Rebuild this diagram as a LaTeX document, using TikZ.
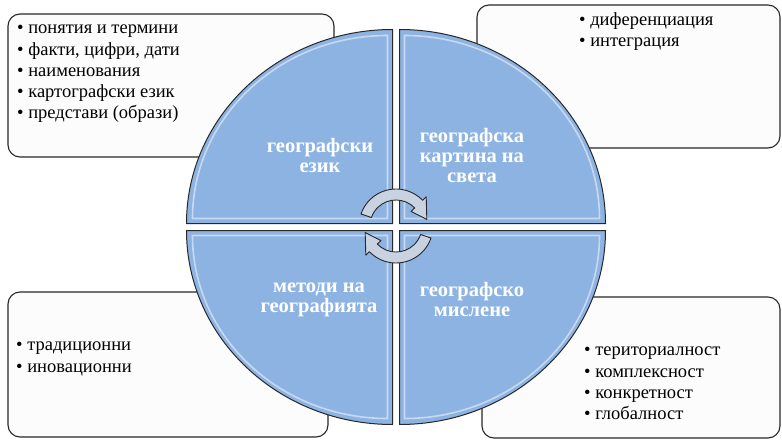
\documentclass[tikz,border=0pt]{standalone}
\usepackage{fontspec}
\setmainfont{Liberation Serif}
\usetikzlibrary{calc}
\definecolor{quadblue}{RGB}{141,179,226}
\definecolor{arrowfill}{RGB}{200,210,224}
\definecolor{edgegray}{RGB}{40,40,40}
\definecolor{boxfill}{RGB}{252,252,252}
\begin{document}
\begin{tikzpicture}[x=1pt,y=1pt,
  infobox/.style={draw=edgegray, line width=1.1pt, rounded corners=12pt, fill=boxfill, inner sep=0pt},
  boxtext/.style={anchor=west, align=left, inner sep=0pt, text=black, font=\fontsize{18.5}{21.2}\selectfont},
  qlabel/.style={align=center, inner sep=0pt, text=white, font=\fontsize{20.5}{20}\selectfont\bfseries},
  quad/.style={fill=quadblue, draw=edgegray, line width=1pt},
  gloss/.style={draw=white, draw opacity=0.5, line width=1.6pt},
  cycarrow/.style={fill=arrowfill, draw=edgegray, line width=0.9pt, line join=round}]
\useasboundingbox (0,0) rectangle (782,440);
\fill[white] (0,0) rectangle (782,440);
% info boxes
\node[infobox, minimum width=326pt, minimum height=143pt] (boxTL) at (171,354.5) {};
\node[infobox, minimum width=303pt, minimum height=143pt] (boxTR) at (628.5,363.5) {};
\node[infobox, minimum width=320pt, minimum height=145pt] (boxBL) at (168,75.5) {};
\node[infobox, minimum width=298pt, minimum height=141pt] (boxBR) at (631,72.5) {};
% quadrants
\coordinate (C) at (396,213);
\def\g{3.5}
\def\rx{206}
\def\ry{194}
\foreach \sx/\sy in {1/1,-1/1,1/-1,-1/-1}{
  \begin{scope}[shift={(C)}, xscale=\sx, yscale=\sy]
    \path[quad] (\g,\g) -- (\g,\g+\ry) arc[start angle=90, end angle=0, x radius=\rx, y radius=\ry] -- cycle;
    \path[gloss] (\g+5,\g+5) -- (\g+5,\g+\ry-6) arc[start angle=90, end angle=0, x radius=\rx-11, y radius=\ry-11] -- cycle;
  \end{scope}
}
% cyclic arrows
\foreach \rot in {0,180}{
  \begin{scope}[rotate around={\rot:(396,214)}]
    \coordinate (A) at (396,214);
    \path[cycarrow] ($(A)+(161:37)$) arc[start angle=161, end angle=44, radius=37]
      -- ($(A)+(44:42)$) -- ($(A)+(12:31.5)$) -- ($(A)+(44:21)$) -- ($(A)+(44:26)$)
      arc[start angle=44, end angle=161, radius=26] -- cycle;
  \end{scope}
}
% quadrant labels
\node[qlabel] (qTL) at (320,285) {географски\\език};
\node[qlabel] (qTR) at (472,285) {географска\\картина на\\света};
\node[qlabel] (qBL) at (319,140.5) {методи на\\географията};
\node[qlabel] (qBR) at (472,140.5) {географско\\мислене};
% box texts
\node[boxtext] (tTL) at (17,366) {• понятия и термини\\• факти, цифри, дати\\• наименования\\• картографски език\\• представи (образи)};
\node[boxtext] (tTR) at (579,408.5) {• диференциация\\• интеграция};
\node[boxtext] (tBL) at (16,81) {• традиционни\\• иновационни};
\node[boxtext] (tBR) at (584,56.5) {• териториалност\\• комплексност\\• конкретност\\• глобалност};
\end{tikzpicture}
\end{document}
